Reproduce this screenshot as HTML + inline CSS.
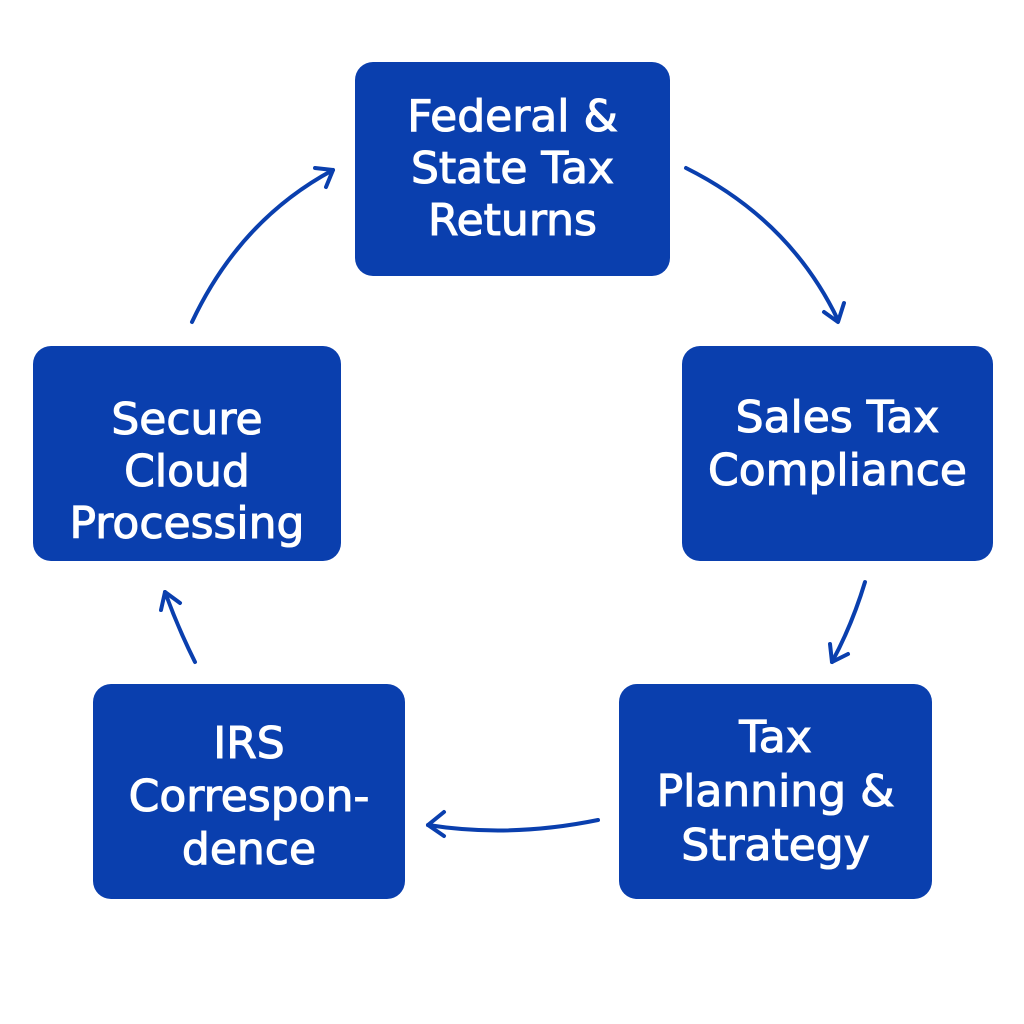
<!DOCTYPE html>
<html><head><meta charset="utf-8"><style>
body{margin:0;width:1024px;height:1024px;background:#fff;position:relative;overflow:hidden;font-family:"DejaVu Sans","Liberation Sans",sans-serif}
.b{position:absolute;background:#0a3fae;border-radius:18px;color:#fff;display:flex;align-items:center;justify-content:center;text-align:center;font-size:44px;line-height:52px;-webkit-text-stroke:1.1px #fff;box-sizing:border-box;white-space:nowrap}
svg{position:absolute;left:0;top:0}
</style></head><body>
<div class="b" style="left:355px;top:62px;width:315px;height:214px">Federal &amp;<br>State Tax<br>Returns</div>
<div class="b" style="left:682px;top:346px;width:311px;height:215px;padding-bottom:20px;line-height:53px">Sales Tax<br>Compliance</div>
<div class="b" style="left:619px;top:684px;width:313px;height:215px;line-height:54px">Tax<br>Planning &amp;<br>Strategy</div>
<div class="b" style="left:93px;top:684px;width:312px;height:215px;padding-top:10px;line-height:53px">IRS<br>Correspon-<br>dence</div>
<div class="b" style="left:33px;top:346px;width:308px;height:215px;padding-top:36px">Secure<br>Cloud<br>Processing</div>
<svg width="1024" height="1024" fill="none" stroke="#0a3fae" stroke-width="4" stroke-linecap="round" stroke-linejoin="round">
<path d="M686 168 Q790 220 838 320"/><path d="M824 312 L838 322 L844 303"/>
<path d="M865 582 Q852 625 832 662"/><path d="M830 644 L832 662 L848 654"/>
<path d="M598 820 Q510 838 428 825"/><path d="M444 812 L428 825 L444 836"/>
<path d="M195 662 Q178 628 165 592"/><path d="M161 610 L165 592 L180 603"/>
<path d="M192 322 Q240 220 333 170"/><path d="M315 168 L333 170 L326 187"/>
</svg>
</body></html>
